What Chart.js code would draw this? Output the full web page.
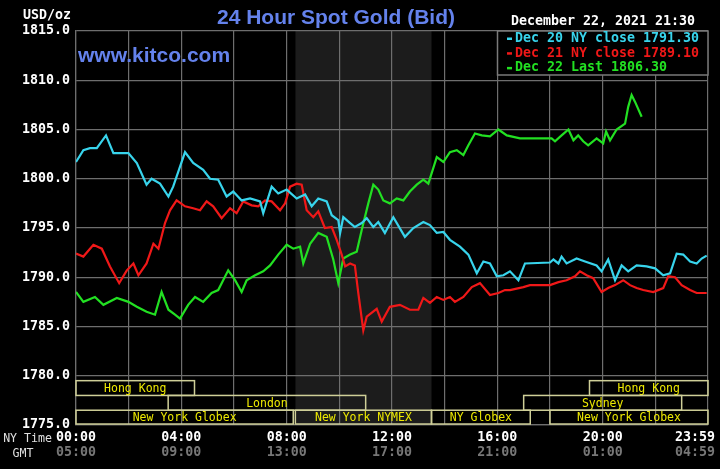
<!DOCTYPE html>
<html lang="en">
<head>
  <meta charset="UTF-8">
  <title>24 Hour Spot Gold (Bid)</title>
  <script src="https://cdn.jsdelivr.net/npm/chart.js"></script>
  <style>
    body {
      margin: 0;
      background: #000;
    }
    #goldChart {
      display: block;
    }
  </style>
</head>
<body>
  <canvas id="goldChart" width="720" height="469"></canvas>

  <script>
    // x = hours since NY midnight, y = USD/oz
    const dec20Hours = [0,0.28,0.53,0.79,1.14,1.42,1.99,2.31,2.68,2.87,3.19,3.51,3.69,4.14,4.45,4.83,5.09,5.40,5.72,5.97,6.29,6.61,6.99,7.11,7.43,7.68,8.00,8.38,8.70,8.95,9.20,9.52,9.71,9.96,10.03,10.15,10.41,10.59,10.85,11.04,11.29,11.48,11.73,12.05,12.49,12.81,13.19,13.44,13.70,13.95,14.20,14.58,14.90,15.22,15.47,15.72,15.98,16.23,16.48,16.80,17.05,18.00,18.13,18.32,18.44,18.63,19.01,19.33,19.77,19.96,20.21,20.47,20.72,20.97,21.29,21.67,21.99,22.30,22.56,22.81,23.06,23.32,23.57,23.76,23.95];
    const dec20Prices = [1801.7,1802.9,1803.1,1803.1,1804.4,1802.6,1802.6,1801.6,1799.4,1800.0,1799.5,1798.2,1799.2,1802.7,1801.6,1800.9,1800.0,1799.9,1798.2,1798.7,1797.8,1798.0,1797.7,1796.5,1799.2,1798.5,1798.9,1798.0,1798.4,1797.2,1798.0,1797.7,1796.3,1795.8,1794.5,1796.1,1795.5,1795.1,1795.5,1796.0,1795.1,1795.6,1794.5,1796.1,1794.1,1795.0,1795.6,1795.3,1794.5,1794.6,1793.8,1793.1,1792.3,1790.4,1791.6,1791.4,1790.1,1790.2,1790.6,1789.7,1791.4,1791.5,1791.8,1791.4,1792.1,1791.4,1791.9,1791.6,1791.2,1790.6,1791.8,1789.7,1791.2,1790.6,1791.2,1791.1,1790.9,1790.2,1790.4,1792.4,1792.3,1791.6,1791.4,1791.9,1792.2];

    const dec21Hours = [0,0.28,0.66,0.98,1.29,1.64,1.93,2.18,2.37,2.68,2.94,3.13,3.38,3.57,3.82,4.14,4.45,4.71,4.96,5.21,5.53,5.85,6.10,6.35,6.67,6.92,7.18,7.43,7.75,7.94,8.13,8.38,8.57,8.76,9.01,9.20,9.45,9.71,9.90,10.09,10.22,10.41,10.59,10.72,10.91,11.04,11.42,11.61,11.92,12.30,12.68,13.00,13.19,13.44,13.70,13.95,14.20,14.39,14.71,15.03,15.34,15.72,16.04,16.29,16.48,16.99,17.24,18.00,18.32,18.63,18.95,19.14,19.39,19.64,19.96,20.21,20.47,20.78,21.04,21.29,21.54,21.92,22.30,22.49,22.75,23.00,23.32,23.57,23.95];
    const dec21Prices = [1792.4,1792.1,1793.3,1792.9,1791.1,1789.4,1790.7,1791.4,1790.2,1791.4,1793.4,1792.9,1795.5,1796.8,1797.8,1797.2,1797.0,1796.8,1797.7,1797.2,1796.0,1797.0,1796.5,1797.7,1797.3,1797.2,1797.8,1797.7,1796.8,1797.5,1799.2,1799.5,1799.4,1796.8,1796.1,1796.7,1795.0,1795.1,1793.8,1792.3,1791.1,1791.4,1791.2,1788.4,1784.6,1786.0,1786.8,1785.5,1787.0,1787.2,1786.7,1786.7,1787.9,1787.4,1788.0,1787.7,1788.0,1787.5,1788.0,1789.0,1789.4,1788.2,1788.4,1788.7,1788.7,1789.0,1789.2,1789.2,1789.5,1789.7,1790.1,1790.6,1790.2,1789.9,1788.5,1788.9,1789.2,1789.7,1789.2,1788.9,1788.7,1788.5,1788.9,1790.1,1790.0,1789.2,1788.7,1788.4,1788.4];

    const dec22Hours = [0,0.28,0.72,1.04,1.55,1.99,2.31,2.68,3.00,3.25,3.51,3.76,3.95,4.26,4.52,4.83,5.15,5.40,5.78,6.04,6.29,6.48,6.80,7.11,7.37,7.68,8.00,8.25,8.51,8.63,8.89,9.20,9.52,9.77,9.96,10.15,10.41,10.66,10.85,11.10,11.29,11.48,11.67,11.92,12.18,12.43,12.68,12.94,13.19,13.38,13.70,13.95,14.20,14.46,14.71,14.90,15.15,15.41,15.72,16.04,16.36,16.86,18.06,18.19,18.44,18.70,18.89,19.07,19.26,19.45,19.77,20.02,20.13,20.28,20.53,20.85,20.97,21.10,21.23,21.48];
    const dec22Prices = [1788.5,1787.5,1788.0,1787.2,1787.9,1787.5,1787.0,1786.5,1786.2,1788.5,1786.7,1786.2,1785.8,1787.2,1788.0,1787.5,1788.4,1788.7,1790.7,1789.7,1788.5,1789.7,1790.2,1790.6,1791.2,1792.3,1793.3,1792.9,1793.1,1791.4,1793.4,1794.5,1794.1,1791.8,1789.4,1791.9,1792.3,1792.6,1794.8,1797.5,1799.4,1798.9,1797.8,1797.5,1798.0,1797.8,1798.7,1799.4,1799.9,1799.5,1802.2,1801.7,1802.7,1802.9,1802.4,1803.4,1804.6,1804.4,1804.3,1805.0,1804.4,1804.1,1804.1,1803.8,1804.4,1805.0,1803.9,1804.4,1803.8,1803.4,1804.1,1803.6,1804.8,1803.9,1805.0,1805.6,1807.3,1808.5,1807.8,1806.3];

    const legendLabels = ['Dec 20 NY close 1791.30', 'Dec 21 NY close 1789.10', 'Dec 22 Last 1806.30'];
    const seriesColors = ['#38d4ec', '#f01818', '#22e022'];

    const tickHours = [0, 4, 8, 12, 16, 20, 24];
    const nyTimeLabels = ['00:00', '04:00', '08:00', '12:00', '16:00', '20:00', '23:59'];
    const gmtLabels = ['05:00', '09:00', '13:00', '17:00', '21:00', '01:00', '04:59'];

    const sessionNames = ['Hong Kong', 'Hong Kong', 'London', 'Sydney', 'New York Globex', 'New York NYMEX', 'NY Globex', 'New York Globex'];
    const sessionStart = [0, 19.5, 3.5, 17, 0, 8.33, 13.5, 18];
    const sessionEnd = [4.5, 24, 11, 23, 8.25, 13.5, 17.25, 24];
    const sessionRow = [0, 0, 1, 1, 2, 2, 2, 2];

    const nymexOpen = 8 + 20 / 60;
    const nymexClose = 13.5;

    // row bands inside the 1775-1780 strip
    const rowTop = [1779.5, 1778.0, 1776.5];
    const rowBottom = [1778.0, 1776.5, 1775.1];

    const mono = '"DejaVu Sans Mono", "Liberation Mono", monospace';

    function toPoints(hours, prices) {
      return hours.map((h, i) => ({ x: h, y: prices[i] }));
    }

    const kitcoDecor = {
      id: 'kitcoDecor',
      beforeDraw(chart) {
        const { ctx, chartArea, scales: { x } } = chart;
        ctx.save();
        ctx.fillStyle = '#000';
        ctx.fillRect(0, 0, chart.width, chart.height);
        const x0 = x.getPixelForValue(nymexOpen);
        const x1 = x.getPixelForValue(nymexClose);
        ctx.fillStyle = '#1c1c1c';
        ctx.fillRect(x0, chartArea.top, x1 - x0, chartArea.bottom - chartArea.top);
        ctx.restore();
      },
      afterDatasetsDraw(chart) {
        const { ctx, chartArea, scales: { x, y } } = chart;
        ctx.save();

        // trading sessions
        ctx.lineWidth = 1.5;
        ctx.strokeStyle = '#cfcf98';
        ctx.fillStyle = '#eeea00';
        ctx.font = '11.5px ' + mono;
        ctx.textAlign = 'center';
        ctx.textBaseline = 'middle';
        sessionNames.forEach((name, i) => {
          const r = sessionRow[i];
          const x0 = x.getPixelForValue(sessionStart[i]);
          const x1 = x.getPixelForValue(sessionEnd[i]);
          const y0 = y.getPixelForValue(rowTop[r]);
          const y1 = y.getPixelForValue(rowBottom[r]);
          ctx.strokeRect(x0, y0, x1 - x0, y1 - y0);
          ctx.fillText(name, (x0 + x1) / 2, (y0 + y1) / 2 + 1);
        });

        // legend box
        const lx = 497.5, ly = chartArea.top, lw = chartArea.right - lx, lh = 44;
        ctx.fillStyle = '#000';
        ctx.fillRect(lx, ly, lw, lh);
        ctx.strokeStyle = '#7a7a7a';
        ctx.lineWidth = 1.5;
        ctx.strokeRect(lx, ly, lw, lh);
        ctx.font = 'bold 13.3px ' + mono;
        ctx.textAlign = 'left';
        legendLabels.forEach((label, i) => {
          const ty = ly + 7.5 + i * 14.7;
          ctx.fillStyle = seriesColors[i];
          ctx.fillRect(507, ty - 1, 5, 2.5);
          ctx.fillText(label, 515, ty);
        });
        ctx.restore();
      },
      afterDraw(chart) {
        const { ctx, scales: { x } } = chart;
        ctx.save();
        ctx.textBaseline = 'middle';

        ctx.font = 'bold 21px "Liberation Sans", Arial, sans-serif';
        ctx.fillStyle = '#6482ec';
        ctx.textAlign = 'center';
        ctx.fillText('24 Hour Spot Gold (Bid)', 336, 18);
        ctx.textAlign = 'left';
        ctx.fillText('www.kitco.com', 78, 56);

        ctx.font = 'bold 13.3px ' + mono;
        ctx.fillStyle = '#ffffff';
        ctx.fillText('December 22, 2021 21:30', 511, 22);
        ctx.textAlign = 'right';
        ctx.fillText('USD/oz', 71, 16);

        // time axis
        ctx.font = '11.6px ' + mono;
        ctx.fillStyle = '#e0e0e0';
        ctx.fillText('NY Time', 52, 439);
        ctx.textAlign = 'center';
        ctx.fillText('GMT', 23, 454);
        tickHours.forEach((h, i) => {
          let px = x.getPixelForValue(h);
          if (h === 24) px -= 13;
          ctx.font = 'bold 13.3px ' + mono;
          ctx.fillStyle = '#ffffff';
          ctx.fillText(nyTimeLabels[i], px, 438);
          ctx.fillStyle = '#777777';
          ctx.fillText(gmtLabels[i], px, 453);
        });
        ctx.restore();
      }
    };

    const goldChart = new Chart(document.getElementById('goldChart'), {
      type: 'line',
      data: {
        datasets: [
          { label: 'Dec 20', data: toPoints(dec20Hours, dec20Prices), borderColor: seriesColors[0] },
          { label: 'Dec 21', data: toPoints(dec21Hours, dec21Prices), borderColor: seriesColors[1] },
          { label: 'Dec 22', data: toPoints(dec22Hours, dec22Prices), borderColor: seriesColors[2] }
        ]
      },
      options: {
        responsive: false,
        animation: false,
        layout: { padding: { top: 31, right: 12, left: 0, bottom: 0 } },
        elements: {
          line: { borderWidth: 2.2, tension: 0 },
          point: { radius: 0 }
        },
        plugins: {
          legend: { display: false },
          tooltip: { enabled: false }
        },
        scales: {
          x: {
            type: 'linear',
            min: 0,
            max: 24,
            ticks: { stepSize: 2, display: false },
            grid: { color: '#6e6e6e', lineWidth: 1.2, drawTicks: false },
            border: { color: '#6e6e6e', width: 1.2 },
            afterFit: s => { s.height = 44; }
          },
          y: {
            min: 1775,
            max: 1815,
            ticks: {
              stepSize: 5,
              color: '#ffffff',
              padding: 6,
              font: { family: mono, size: 13.3, weight: 'bold' },
              callback: v => v.toFixed(1)
            },
            grid: { color: '#6e6e6e', lineWidth: 1.2, drawTicks: false },
            border: { color: '#6e6e6e', width: 1.2 },
            afterFit: s => { s.width = 76; }
          }
        }
      },
      plugins: [kitcoDecor]
    });
  </script>
</body>
</html>
